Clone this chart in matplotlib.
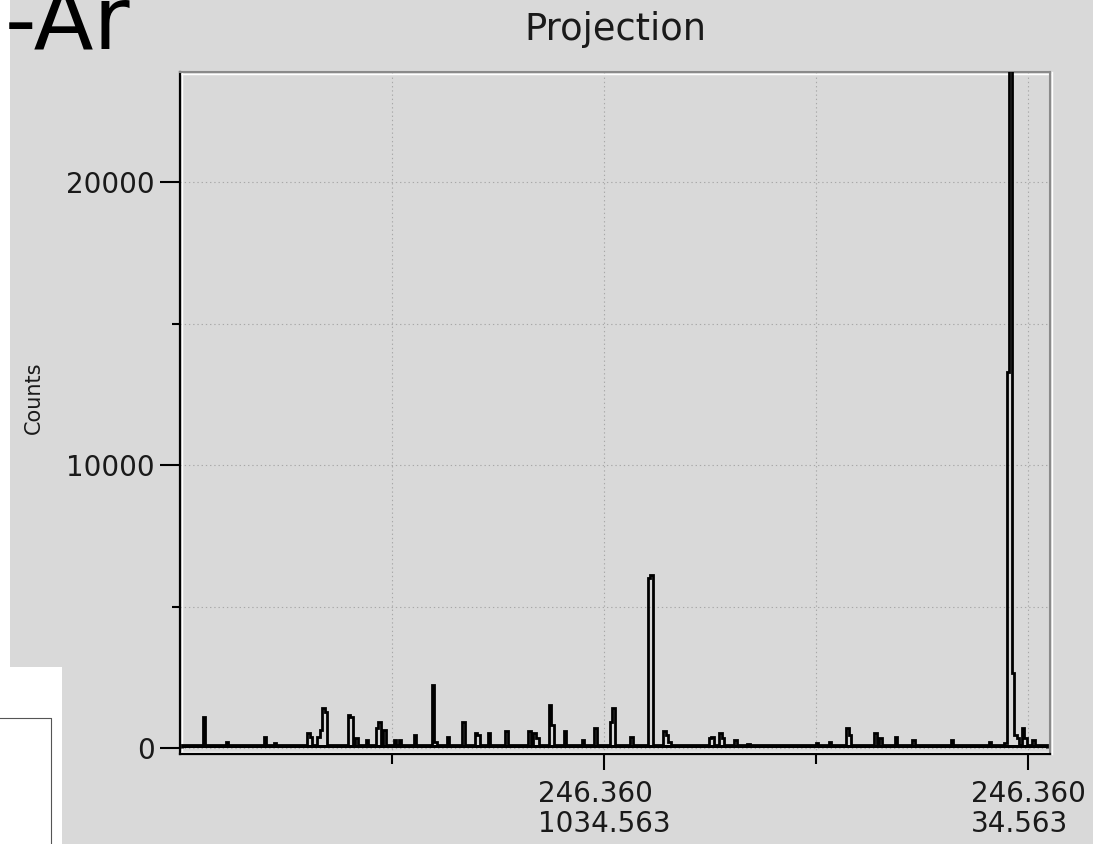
import numpy as np
import matplotlib
matplotlib.use("Agg")
import matplotlib.pyplot as plt
import matplotlib.transforms as mtransforms
from matplotlib.lines import Line2D
from matplotlib.patches import Rectangle

# --- Spectrum data (energy units, counts) ---
BIN_START = -11
BIN_STOP = 2030
BIN_WIDTH = 6
BASELINE = 90

peak_pos = [1980, 1924, 1834, 1811, 1730, 1726, 1709, 1700, 1693, 1688,
            1636, 1631, 1617, 1596, 1568, 1563, 1551, 1528, 1516, 1480,
            1438, 1431, 1403, 1367, 1336, 1327, 1308, 1261, 1209, 1197,
            1190, 1160, 1157, 1124, 1084, 1051, 1018, 1011, 971, 929,
            924, 891, 886, 877, 785, 780, 759, 752, 726, 695,
            530, 502, 457, 452, 396, 381, 348, 303, 216, 122,
            89, 84, 78, 72, 65, 58, 44, 37, 23, 11]
peak_counts = [1100, 200, 390, 180, 530, 390, 390, 640, 1410, 1270,
               1170, 1100, 350, 280, 700, 920, 640, 280, 280, 460,
               2230, 210, 390, 920, 530, 460, 530, 600, 600, 530,
               350, 1520, 810, 600, 280, 700, 920, 1410, 390, 6000,
               6110, 600, 460, 210, 350, 390, 530, 350, 280, 140,
               180, 210, 700, 460, 530, 350, 390, 280, 280, 210,
               180, 13300, 26000, 2650, 460, 350, 700, 350, 280, 100]

xtick_major = [1034.563, 34.563]
xtick_labels = ["246.360\n1034.563", "246.360\n34.563"]
xtick_minor = [1534.563, 534.563]
ytick_major = [0, 10000, 20000]
ytick_minor = [5000, 15000]

BG = "#d9d9d9"
W, H = 1093, 844

fig = plt.figure(figsize=(W / 100, H / 100), dpi=100, facecolor=BG)

# white strip / box on the left edge
fig.patches.append(Rectangle((0, 0), 10 / W, 1, transform=fig.transFigure,
                             facecolor="white", edgecolor="none", zorder=0))
fig.patches.append(Rectangle((0, 0), 62 / W, (H - 667) / H, transform=fig.transFigure,
                             facecolor="white", edgecolor="none", zorder=0))
fig.add_artist(Line2D([0, 51 / W, 51 / W], [(H - 718) / H, (H - 718) / H, 0],
                      transform=fig.transFigure, color="#555555", lw=0.8))

fig.text(5 / W, 1 - 50 / H, "-Ar", fontsize=63, va="baseline", ha="left", color="black")
fig.text(615 / W, 1 - 40 / H, "Projection", fontsize=26.5, ha="center", va="baseline",
         color="#1a1a1a")

ax = fig.add_axes([180 / W, 1 - 754 / H, 870 / W, 682 / H])
ax.set_facecolor(BG)

edges = np.arange(BIN_START, BIN_STOP, BIN_WIDTH)
counts = np.full(len(edges) - 1, BASELINE, dtype=float)
idx = np.searchsorted(edges, peak_pos, side="right") - 1
np.maximum.at(counts, idx, peak_counts)

# noise floor band, then the histogram outline
ax.stairs(np.full(len(edges) - 1, BASELINE), edges, fill=True, color="black",
          lw=0, zorder=3)
ax.stairs(counts, edges, color="black", lw=2.0, zorder=3)

ax.set_xlim(2034.6, -17.4)
ax.set_ylim(-212, 23887)

ax.set_xticks(xtick_major, labels=xtick_labels)
ax.set_xticks(xtick_minor, minor=True)
ax.set_yticks(ytick_major, labels=[str(v) for v in ytick_major])
ax.set_yticks(ytick_minor, minor=True)

ax.tick_params(axis="y", which="major", direction="out", length=14.4, width=1.5,
               pad=3.6, labelsize=20, labelcolor="#1a1a1a")
ax.tick_params(axis="y", which="minor", direction="out", length=5.8, width=1.5)
ax.tick_params(axis="x", which="major", direction="out", length=11.5, width=1.5,
               pad=7, labelsize=20, labelcolor="#1a1a1a")
ax.tick_params(axis="x", which="minor", direction="out", length=7.2, width=1.5)
for lbl in ax.get_xticklabels():
    lbl.set_multialignment("left")
    lbl.set_linespacing(1.1)

ax.grid(True, which="both", color="#a8a8a8", lw=0.8, linestyle=(0, (1.2, 2.6)))
ax.set_axisbelow(True)

ax.set_ylabel("Counts", fontsize=15, color="#1a1a1a")
ax.yaxis.set_label_coords(-0.156, 0.523)

# sunken frame look
for side in ("left", "bottom"):
    ax.spines[side].set_color("black")
    ax.spines[side].set_linewidth(1.6)
for side in ("top", "right"):
    ax.spines[side].set_color("#8a8a8a")
    ax.spines[side].set_linewidth(1.5)


def edge_line(xs, ys, dx, dy):
    off = mtransforms.ScaledTranslation(dx / 100, dy / 100, fig.dpi_scale_trans)
    ax.add_line(Line2D(xs, ys, transform=ax.transAxes + off, color="white",
                       lw=1.0, clip_on=False, zorder=2))


edge_line([0, 0], [0, 1], 2, 0)
edge_line([0, 1], [0, 0], 0, 2)
edge_line([0, 1], [1, 1], 0, -2)
edge_line([1, 1], [0, 1], 2, 0)

fig.savefig("out.png", dpi=100, facecolor=BG)
